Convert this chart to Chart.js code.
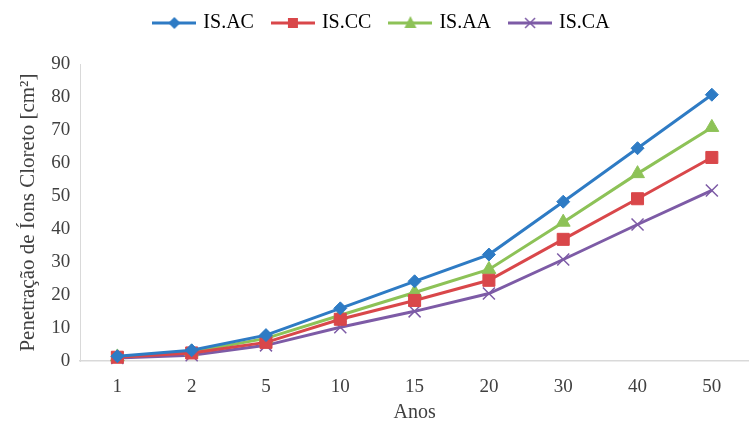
<!DOCTYPE html>
<html>
<head>
<meta charset="utf-8">
<script src="https://cdn.jsdelivr.net/npm/chart.js@4.4.0/dist/chart.umd.min.js"></script>
<style>
  html, body { margin: 0; padding: 0; background: #fff; }
  #wrap { width: 749px; height: 425px; }
</style>
</head>
<body>
<div id="wrap"><canvas id="chart" width="749" height="425"></canvas></div>
<script>
const anos = ['1', '2', '5', '10', '15', '20', '30', '40', '50'];
const isAC = [1.5, 3.3, 7.9, 16.0, 24.2, 32.3, 48.3, 64.5, 80.7];
const isCC = [1.2, 2.5, 5.7, 12.7, 18.4, 24.5, 36.9, 49.2, 61.7];
const isAA = [1.3, 2.8, 6.9, 13.9, 20.8, 27.8, 42.1, 56.8, 70.8];
const isCA = [1.0, 1.8, 4.8, 10.3, 15.1, 20.5, 30.8, 41.4, 51.7];
const yTicks = [0, 10, 20, 30, 40, 50, 60, 70, 80, 90];

const serif = '"Liberation Serif", "Times New Roman", serif';

const series = [
    { label: 'IS.AC', data: isAC, color: '#2E7BC4', style: 'rectRot', radius: 6.5 },
    { label: 'IS.CC', data: isCC, color: '#D9474A', style: 'rect', radius: 8.5 },
    { label: 'IS.AA', data: isAA, color: '#8DC257', style: 'triangle', radius: 8 },
    { label: 'IS.CA', data: isCA, color: '#7D5BA6', style: 'crossRot', radius: 8.5 }
];

// legend symbol: short line with the marker in the middle
function legendSymbol(s) {
    const c = document.createElement('canvas');
    c.width = 44;
    c.height = 18;
    const g = c.getContext('2d');
    g.strokeStyle = s.color;
    g.fillStyle = s.color;
    g.lineWidth = 3;
    g.beginPath();
    g.moveTo(0, 9);
    g.lineTo(44, 9);
    g.stroke();
    g.beginPath();
    if (s.style === 'rectRot') {
        g.moveTo(22, 3); g.lineTo(28, 9); g.lineTo(22, 15); g.lineTo(16, 9);
    } else if (s.style === 'rect') {
        g.rect(17, 4, 10, 10);
    } else if (s.style === 'triangle') {
        g.moveTo(22, 2); g.lineTo(28, 14); g.lineTo(16, 14);
    }
    g.closePath();
    g.fill();
    if (s.style === 'crossRot') {
        g.lineWidth = 1.5;
        g.beginPath();
        g.moveTo(17, 4); g.lineTo(27, 14);
        g.moveTo(27, 4); g.lineTo(17, 14);
        g.stroke();
    }
    return c;
}

// extra space below the legend
const legendGap = {
    id: 'legendGap',
    beforeInit(chart) {
        const fit = chart.legend.fit;
        chart.legend.fit = function () {
            fit.bind(chart.legend)();
            this.height += 21;
        };
    }
};

const ctx = document.getElementById('chart');

new Chart(ctx, {
    type: 'line',
    data: {
        labels: anos,
        datasets: series.map(s => ({
            label: s.label,
            data: s.data,
            borderColor: s.color,
            backgroundColor: s.color,
            borderWidth: 3,
            pointStyle: s.style,
            pointRadius: s.radius,
            pointBorderWidth: s.style === 'crossRot' ? 1.5 : 1,
            pointBackgroundColor: s.color,
            pointBorderColor: s.color,
            tension: 0,
            clip: false
        }))
    },
    options: {
        responsive: false,
        animation: false,
        layout: {
            autoPadding: false,
            padding: { left: 16, right: 0, top: -7, bottom: 0 }
        },
        scales: {
            x: {
                offset: true,
                afterFit: axis => {
                    axis.paddingLeft = 0;
                    axis.paddingRight = 0;
                },
                grid: { display: false, drawTicks: false },
                border: { color: '#D9D9D9', width: 1.5 },
                ticks: {
                    color: '#404040',
                    font: { family: serif, size: 19 },
                    padding: 14
                },
                title: {
                    display: true,
                    text: 'Anos',
                    color: '#404040',
                    font: { family: serif, size: 20 },
                    padding: { top: -11, bottom: 0 }
                }
            },
            y: {
                min: 0,
                max: 90,
                afterBuildTicks: axis => {
                    axis.ticks = yTicks.map(v => ({ value: v }));
                },
                grid: { display: false, drawTicks: false },
                border: { color: '#D9D9D9', width: 1 },
                ticks: {
                    color: '#404040',
                    font: { family: serif, size: 19 },
                    padding: 10
                },
                title: {
                    display: true,
                    text: 'Penetração de Íons Cloreto [cm²]',
                    color: '#404040',
                    font: { family: serif, size: 21 },
                    padding: { top: 0, bottom: 0 }
                }
            }
        },
        plugins: {
            legend: {
                position: 'top',
                labels: {
                    color: '#404040',
                    font: { family: serif, size: 20 },
                    usePointStyle: true,
                    pointStyleWidth: 38,
                    padding: 20,
                    generateLabels: chart => series.map((s, i) => ({
                        text: s.label,
                        pointStyle: legendSymbol(s),
                        fillStyle: s.color,
                        strokeStyle: s.color,
                        lineWidth: 0,
                        hidden: !chart.isDatasetVisible(i),
                        datasetIndex: i
                    }))
                }
            },
            tooltip: { enabled: false }
        }
    },
    plugins: [legendGap]
});
</script>
</body>
</html>
